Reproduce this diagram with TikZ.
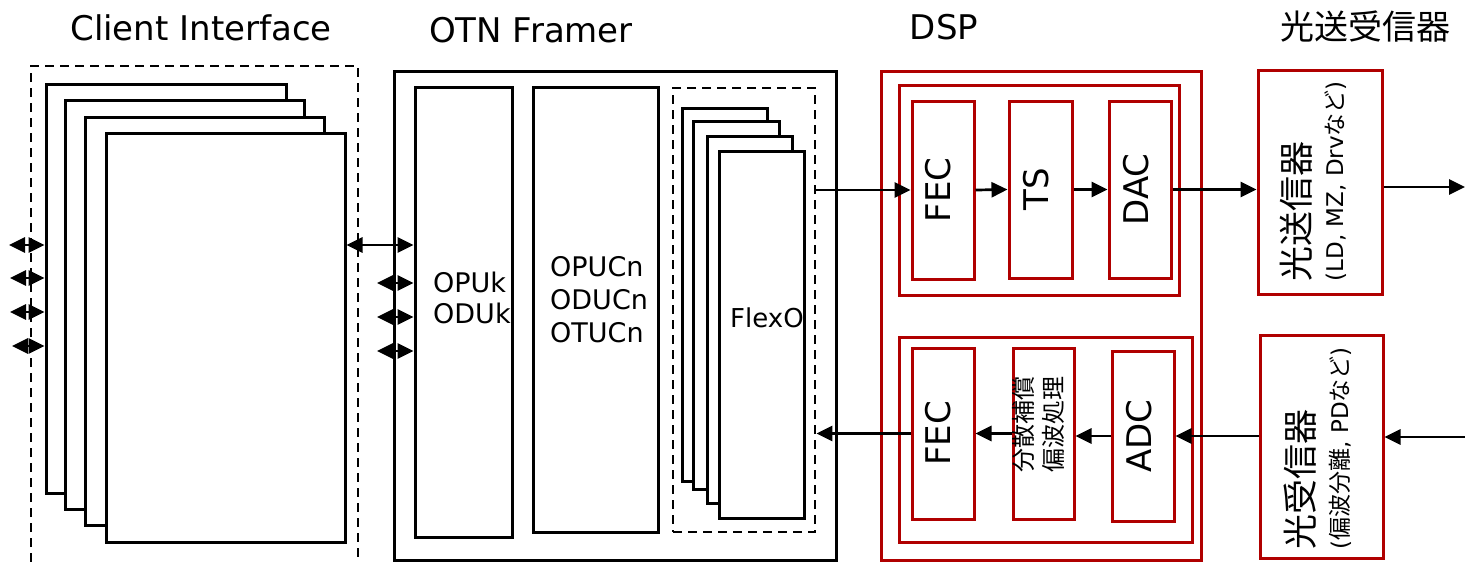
\documentclass[tikz,border=0pt]{standalone}
\usepackage{fontspec}
\setmainfont{DejaVu Sans}
\newfontfamily\cjk{Noto Sans CJK JP}
\usetikzlibrary{arrows.meta}
\definecolor{dred}{RGB}{176,0,0}
\newcommand\fs[1]{\fontsize{#1}{#1}\selectfont}
\newcommand\mkbox[6]{\node[#1,minimum width={(#4)-(#2)},minimum height={(#5)-(#3)}] (#6) at ({((#2)+(#4))/2},{((#3)+(#5))/2}) {};}
\begin{document}
\begin{tikzpicture}[x=1pt,y=-1pt,
 bbox/.style={draw=black, line width=3pt, fill=white, inner sep=0pt},
 dbox/.style={draw=black, line width=2.8pt, dash pattern=on 9pt off 6pt, inner sep=0pt},
 dline/.style={draw=black, line width=2.8pt, dash pattern=on 9pt off 6pt},
 rbox/.style={draw=dred, line width=3pt, fill=white, inner sep=0pt},
 arr/.style={line width=2.7pt, -{Triangle[length=16pt,width=15pt]}},
 dbl/.style={line width=2.7pt, {Triangle[length=16pt,width=15pt]}-{Triangle[length=16pt,width=15pt]}},
 ttl/.style={font=\fs{34}, inner sep=0pt},
 lbl/.style={font=\fontsize{27}{31}\selectfont, align=left, inner sep=0pt, anchor=west},
 rot/.style={font=\fs{34}, rotate=90, inner sep=0pt},
]
\useasboundingbox (0,0) rectangle (1465,562);

% titles
\node[ttl] (tCI) at (201,28) {Client Interface};
\node[ttl] (tOTN) at (531,30) {OTN Framer};
\node[ttl] (tDSP) at (944,27) {DSP};
\node[ttl, font=\cjk\fs{34}] (tTRX) at (1365,27) {光送受信器};

% client interface
\draw[dline] (31,562) -- (31,66) -- (358,66) -- (358,562);
\mkbox{bbox}{46}{84}{286}{493}{r1}
\mkbox{bbox}{65}{100}{304}{509}{r2}
\mkbox{bbox}{85}{117}{324}{525}{r3}
\mkbox{bbox}{106}{133}{345}{542}{r4}

% OTN framer
\mkbox{bbox}{394}{71}{836}{560}{otn}
\mkbox{bbox}{415}{87}{512}{537}{opuk}
\mkbox{bbox}{533}{87}{658}{532}{opucn}
\mkbox{dbox}{673}{88}{815}{532}{flexo}
\mkbox{bbox}{682}{108}{767}{481}{f1}
\mkbox{bbox}{693}{121}{779}{489}{f2}
\mkbox{bbox}{707}{136}{792}{503}{f3}
\mkbox{bbox}{719}{151}{804}{518}{f4}
\node[lbl] (topuk) at (433,298) {OPUk\\ODUk};
\node[lbl, font=\fontsize{27}{33}\selectfont] (topucn) at (550,300) {OPUCn\\ODUCn\\OTUCn};
\node[lbl, font=\fs{26}] (tflexo) at (730,318) {FlexO};

% DSP
\mkbox{rbox}{881}{71}{1201}{560}{dsp}
\mkbox{rbox}{899}{85}{1179}{295}{tin}
\mkbox{rbox}{899}{337}{1192}{542}{rin}
\mkbox{rbox}{912}{101}{974}{279}{fecT}
\mkbox{rbox}{1009}{101}{1072}{278}{ts}
\mkbox{rbox}{1109}{101}{1171}{278}{dac}
\mkbox{rbox}{912}{348}{974}{519}{fecB}
\mkbox{rbox}{1013}{348}{1074}{519}{cd}
\mkbox{rbox}{1112}{351}{1174}{521}{adc}
\node[rot] (lfecT) at ([xshift=-5pt]fecT.center) {FEC};
\node[rot] (lts) at ([xshift=-4pt]ts.center) {TS};
\node[rot] (ldac) at ([xshift=-4pt]dac.center) {DAC};
\node[rot] (lfecB) at ([xshift=-5pt]fecB.center) {FEC};
\node[rot] (ladc) at ([xshift=-4pt]adc.center) {ADC};
\node[rot, font=\cjk\fontsize{24}{30}\selectfont, align=center] (lcd) at ([xshift=-5pt,yshift=9pt]cd.center) {分散補償\\偏波処理};

% optical transceiver
\mkbox{rbox}{1258}{70}{1382}{294}{tx}
\mkbox{rbox}{1260}{335}{1383}{558}{rx}
\node[rot, font=\cjk\fs{35}, anchor=base west] (ltx) at ([xshift=53pt,yshift=14pt]tx.south west) {光送信器};
\node[rot, font=\fs{23}, anchor=base west] (ltx2) at ([xshift=87pt,yshift=14pt]tx.south west) {(LD, MZ, Drv{\cjk など})};
\node[rot, font=\cjk\fs{35}, anchor=base west] (lrx) at ([xshift=55pt,yshift=10pt]rx.south west) {光受信器};
\node[rot, font=\fs{23}, anchor=base west] (lrx2) at ([xshift=90pt,yshift=10pt]rx.south west) {({\cjk 偏波分離}, PD{\cjk など})};

% connectors
\coordinate (la1) at (9,245);
\coordinate (la2) at (10,278);
\coordinate (la3) at (10,312);
\coordinate (la4) at (12,346);
\draw[dbl] (la1) -- (la1 -| r1.west);
\draw[dbl] (la2) -- (la2 -| r1.west);
\draw[dbl] (la3) -- (la3 -| r1.west);
\draw[dbl] (la4) -- (la4 -| r1.west);
\coordinate (cl) at (0,245);
\draw[dbl] (cl -| r4.east) -- (cl -| opuk.west);
\coordinate (oa1) at (377,283);
\coordinate (oa2) at (377,317);
\coordinate (oa3) at (377,351);
\draw[dbl] (oa1) -- (oa1 -| opuk.west);
\draw[dbl] (oa2) -- (oa2 -| opuk.west);
\draw[dbl] (oa3) -- (oa3 -| opuk.west);

\draw[arr] (fecT.west -| flexo.east) -- (fecT.west);
\draw[arr] (fecT.east) -- (ts.west);
\draw[arr] (ts.east) -- (dac.west);
\draw[arr] (dac.east) -- (dac.east -| tx.west);
\coordinate (outT) at (1465,187);
\draw[arr] (outT -| tx.east) -- (outT);
\coordinate (inR) at (1465,437);
\draw[arr] (inR) -- (inR -| rx.east);
\draw[arr] (adc.east -| rx.west) -- (adc.east);
\draw[arr] (adc.west) -- (adc.west -| cd.east);
\draw[arr] (cd.west) -- (cd.west -| fecB.east);
\draw[arr] (fecB.west) -- (fecB.west -| flexo.east);
\end{tikzpicture}
\end{document}
